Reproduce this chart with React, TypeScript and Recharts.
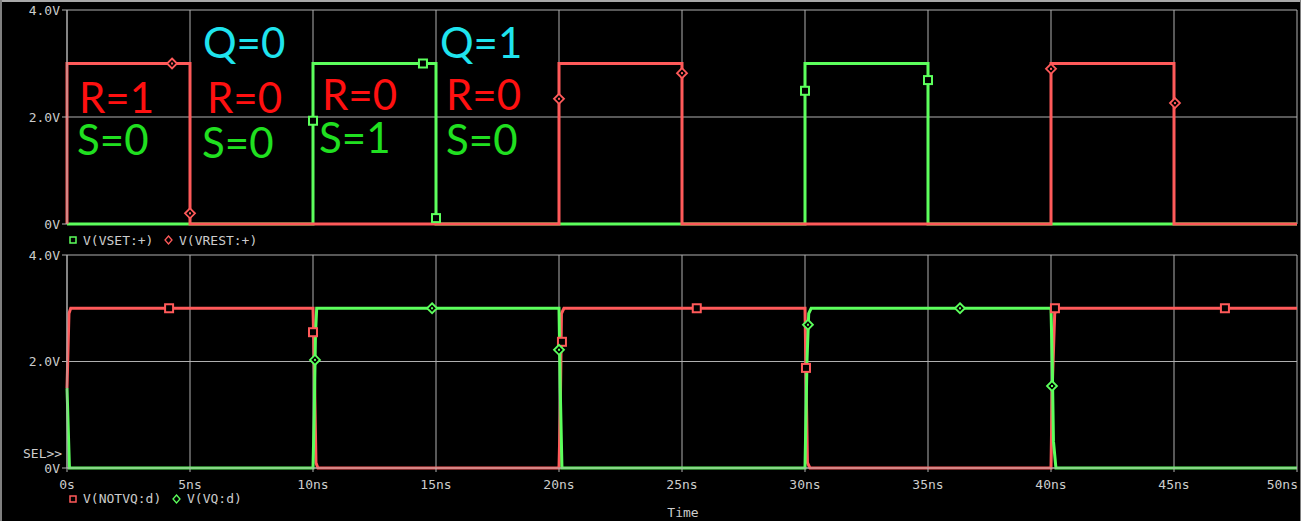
import React from 'react';
import { ComposedChart, Line, Scatter, XAxis, YAxis, CartesianGrid } from 'recharts';

// ---- axes ----
const timeTicks = [0, 5, 10, 15, 20, 25, 30, 35, 40, 45, 50];
const timeTickLabels = ['0s', '5ns', '10ns', '15ns', '20ns', '25ns', '30ns', '35ns', '40ns', '45ns', '50ns'];
const voltTicks = [0, 2, 4];
const voltTickLabels = ['0V', '2.0V', '4.0V'];

// ---- top panel: V(VSET:+) and V(VREST:+) ----
const vsetT = [0, 10, 10, 15, 15, 30, 30, 35, 35, 50];
const vsetV = [0, 0, 3, 3, 0, 0, 3, 3, 0, 0];
const vsetMarkT = [10, 14.47, 15, 30, 35];
const vsetMarkV = [1.93, 3, 0.11, 2.49, 2.69];

const vrestT = [0, 0, 5, 5, 20, 20, 25, 25, 40, 40, 45, 45, 50];
const vrestV = [0, 3, 3, 0, 0, 3, 3, 0, 0, 3, 3, 0, 0];
const vrestMarkT = [4.27, 5, 20, 25, 40, 45.04];
const vrestMarkV = [3, 0.2, 2.34, 2.82, 2.9, 2.26];

// ---- bottom panel: V(NOTVQ:d) and V(VQ:d) ----
const notvqT = [0, 0.08, 0.15, 10, 10.05, 10.12, 10.2, 20, 20.05, 20.1, 20.2, 30, 30.05, 30.1, 30.2, 40, 40.05, 40.15, 40.25, 50];
const notvqV = [1.5, 2.9, 3, 3, 2.0, 0.1, 0, 0, 1.0, 2.9, 3, 3, 1.5, 0.1, 0, 0, 1.5, 2.9, 3, 3];
const notvqMarkT = [4.15, 10.0, 20.12, 25.6, 30.04, 40.16, 47.07];
const notvqMarkV = [3, 2.55, 2.37, 3, 1.88, 3, 3];

const vqT = [0, 0.1, 10, 10.05, 10.1, 10.15, 20, 20.05, 20.12, 30, 30.08, 30.15, 30.25, 40, 40.05, 40.1, 40.2, 50];
const vqV = [1.5, 0, 0, 1.0, 2.5, 3, 3, 1.5, 0, 0, 2.0, 2.9, 3, 3, 2.0, 0.5, 0, 0];
const vqMarkT = [10.08, 14.84, 20.0, 30.12, 36.3, 40.04];
const vqMarkV = [2.03, 3, 2.22, 2.69, 3, 1.54];

// ---- annotations ----
const annoText = ['Q=0', 'Q=1', 'R=1', 'R=0', 'R=0', 'R=0', 'S=0', 'S=0', 'S=1', 'S=0'];
const annoKind = ['q', 'q', 'r', 'r', 'r', 'r', 's', 's', 's', 's'];
const annoX = [203, 440, 79, 207, 322, 446, 77, 202, 319, 446];
const annoY = [58, 58, 113, 113, 110, 110, 155, 158, 153, 155];

const RED = '#ff5a5a';
const GREEN = '#5cff5c';
const GRID = '#b0b0b0';
const TXT = '#cccccc';
const MONO = '"DejaVu Sans Mono", monospace';
const annoColor: Record<string, string> = { q: '#1fe4ee', r: '#ff1010', s: '#20e020' };

const zip = (t: number[], v: number[]) => t.map((x, i) => ({ t: x, v: v[i] }));

const squareShape = (color: string) => (p: any) => (
  <rect x={p.cx - 4} y={p.cy - 4} width={8} height={8} fill="#000" stroke={color} strokeWidth={2} />
);
const diamondShape = (color: string) => (p: any) => (
  <g>
    <path d={`M${p.cx},${p.cy - 5}L${p.cx + 5},${p.cy}L${p.cx},${p.cy + 5}L${p.cx - 5},${p.cy}Z`} fill="#000" stroke={color} strokeWidth={1.8} />
    <rect x={p.cx - 1} y={p.cy - 1} width={2} height={2} fill={color} />
  </g>
);

const tickStyle = { fill: TXT, fontFamily: MONO, fontSize: 13 };
const voltFmt = (v: number) => voltTickLabels[voltTicks.indexOf(v)] ?? '';

const TimeTick = (p: any) => {
  const i = timeTicks.indexOf(p.payload.value);
  const last = i === timeTicks.length - 1;
  return (
    <text x={last ? p.x + 1 : p.x} y={p.y} dy="0.71em" textAnchor={last ? 'end' : 'middle'}
      fill={TXT} fontFamily={MONO} fontSize={13}>{timeTickLabels[i]}</text>
  );
};

export default function App() {
  return (
    <div style={{ position: 'fixed', left: 0, top: 0, width: 1301, height: 521, background: '#000', overflow: 'hidden' }}>
      <div style={{ position: 'absolute', left: 0, top: 0 }}>
        <ComposedChart width={1301} height={236} margin={{ top: 10, right: 4, bottom: 12, left: 0 }}>
          <CartesianGrid stroke={GRID} strokeWidth={1} />
          <XAxis type="number" dataKey="t" domain={[0, 50]} ticks={timeTicks} hide />
          <YAxis type="number" domain={[0, 4]} ticks={voltTicks} interval={0} width={67} tickFormatter={voltFmt}
            tick={tickStyle} tickSize={5} stroke={GRID} />
          <Line data={zip(vsetT, vsetV)} dataKey="v" stroke={GREEN} strokeWidth={3} dot={false} type="linear" isAnimationActive={false} />
          <Line data={zip(vrestT, vrestV)} dataKey="v" stroke={RED} strokeWidth={3} dot={false} type="linear" isAnimationActive={false} />
          <Scatter data={zip(vsetMarkT, vsetMarkV)} dataKey="v" shape={squareShape(GREEN)} isAnimationActive={false} />
          <Scatter data={zip(vrestMarkT, vrestMarkV)} dataKey="v" shape={diamondShape(RED)} isAnimationActive={false} />
        </ComposedChart>
      </div>
      <div style={{ position: 'absolute', left: 0, top: 245 }}>
        <ComposedChart width={1301} height={253} margin={{ top: 10, right: 4, bottom: 0, left: 0 }}>
          <CartesianGrid stroke={GRID} strokeWidth={1} />
          <XAxis type="number" dataKey="t" domain={[0, 50]} ticks={timeTicks} interval={0} height={30}
            tick={<TimeTick />} tickSize={4} tickMargin={8} stroke={GRID} />
          <YAxis type="number" domain={[0, 4]} ticks={voltTicks} interval={0} width={67} tickFormatter={voltFmt}
            tick={tickStyle} tickSize={5} stroke={GRID} />
          <Line data={zip(notvqT, notvqV)} dataKey="v" stroke={RED} strokeWidth={3} dot={false} type="linear" isAnimationActive={false} />
          <Line data={zip(vqT, vqV)} dataKey="v" stroke={GREEN} strokeWidth={3} dot={false} type="linear" isAnimationActive={false} />
          <Scatter data={zip(notvqMarkT, notvqMarkV)} dataKey="v" shape={squareShape(RED)} isAnimationActive={false} />
          <Scatter data={zip(vqMarkT, vqMarkV)} dataKey="v" shape={diamondShape(GREEN)} isAnimationActive={false} />
        </ComposedChart>
      </div>
      <svg width={1301} height={521} style={{ position: 'absolute', left: 0, top: 0, pointerEvents: 'none' }}>
        {annoText.map((s, i) => (
          <text key={i} x={annoX[i]} y={annoY[i]} fill={annoColor[annoKind[i]]} fontFamily="Lato, 'Open Sans', sans-serif" fontSize={42}>{s}</text>
        ))}
        {/* top legend */}
        <rect x={70} y={237} width={6} height={6} fill="none" stroke={GREEN} strokeWidth={1.5} />
        <text x={83} y={245} fill={TXT} fontFamily={MONO} fontSize={13}>V(VSET:+)</text>
        <path d="M168.5,236L172,240L168.5,244L165,240Z" fill="none" stroke={RED} strokeWidth={1.3} />
        <text x={179} y={245} fill={TXT} fontFamily={MONO} fontSize={13}>V(VREST:+)</text>
        {/* bottom legend */}
        <rect x={70} y={496} width={6} height={6} fill="none" stroke={RED} strokeWidth={1.5} />
        <text x={83} y={503} fill={TXT} fontFamily={MONO} fontSize={13}>V(NOTVQ:d)</text>
        <path d="M176.5,495L180,499L176.5,503L173,499Z" fill="none" stroke={GREEN} strokeWidth={1.3} />
        <text x={187} y={503} fill={TXT} fontFamily={MONO} fontSize={13}>V(VQ:d)</text>
        <text x={23} y={458} fill={TXT} fontFamily={MONO} fontSize={13}>SEL&gt;&gt;</text>
        <text x={683} y={517} fill={TXT} fontFamily={MONO} fontSize={13} textAnchor="middle">Time</text>
      </svg>
      <div style={{ position: 'absolute', left: 0, top: 0, width: 1301, height: 2, background: '#a8a8a8' }} />
      <div style={{ position: 'absolute', left: 0, top: 0, width: 2, height: 521, background: '#808080' }} />
      <div style={{ position: 'absolute', left: 1300, top: 0, width: 1, height: 521, background: '#808080' }} />
    </div>
  );
}
